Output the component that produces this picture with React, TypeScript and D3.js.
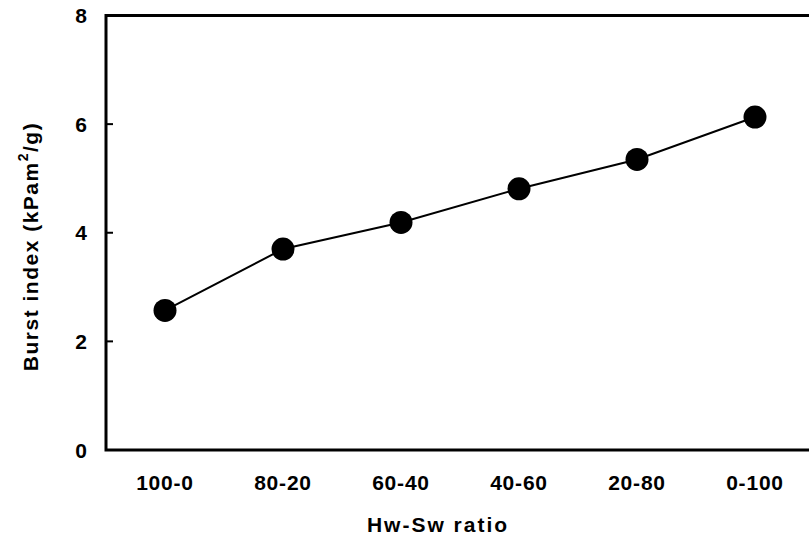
import * as d3 from 'd3';

const ratios = ['100-0', '80-20', '60-40', '40-60', '20-80', '0-100'];
const burstIndex = [2.57, 3.70, 4.19, 4.81, 5.35, 6.13];
const yTicks = [0, 2, 4, 6, 8];

const W = 809;
const H = 542;
const margin = { left: 106, right: -5, top: 15.5, bottom: 92 };
const FONT = 'Arial, "Liberation Sans", Helvetica, sans-serif';

const App = () => {
    const innerW = W - margin.left - margin.right;
    const innerH = H - margin.top - margin.bottom;

    const x = d3.scalePoint<string>().domain(ratios).range([0, innerW]).padding(0.5);
    const y = d3.scaleLinear().domain([0, 8]).range([innerH, 0]);

    const line = d3.line<number>()
        .x((_, i) => x(ratios[i]) as number)
        .y(d => y(d));

    return (
        <svg width={W} height={H} style={{ position: 'absolute', left: 0, top: 0, background: '#fff' }}>
            <g transform={`translate(${margin.left}, ${margin.top})`} fontFamily={FONT} fontWeight="bold">
                {/* frame */}
                <rect x={0} y={0} width={innerW} height={innerH} fill="none" stroke="#000" strokeWidth={3} />

                {/* y ticks + labels */}
                {yTicks.map(t => (
                    <g key={t} transform={`translate(0, ${y(t)})`}>
                        {t > 0 && t < 8 && <line x1={0} x2={7} stroke="#000" strokeWidth={2} />}
                        <text x={-19} dy="0.36em" textAnchor="end" fontSize={21} fill="#000">{t}</text>
                    </g>
                ))}

                {/* x labels */}
                {ratios.map(r => (
                    <text key={r} x={x(r)} y={innerH + 40} textAnchor="middle" fontSize={21} letterSpacing={0.8} fill="#000">{r}</text>
                ))}

                {/* series */}
                <path d={line(burstIndex) ?? ''} fill="none" stroke="#000" strokeWidth={2} />
                {burstIndex.map((v, i) => (
                    <circle key={ratios[i]} cx={x(ratios[i])} cy={y(v)} r={11.5} fill="#000" />
                ))}

                {/* axis titles */}
                <text x={332} y={innerH + 82} textAnchor="middle" fontSize={21} letterSpacing={2} fill="#000">Hw-Sw ratio</text>
                <text transform={`translate(${-68}, ${231}) rotate(-90)`} textAnchor="middle" fontSize={21} letterSpacing={1.5} fill="#000">
                    Burst index (kPam<tspan dy={-10} fontSize={14}>2</tspan><tspan dy={10}>/g)</tspan>
                </text>
            </g>
        </svg>
    );
};

export default App;
